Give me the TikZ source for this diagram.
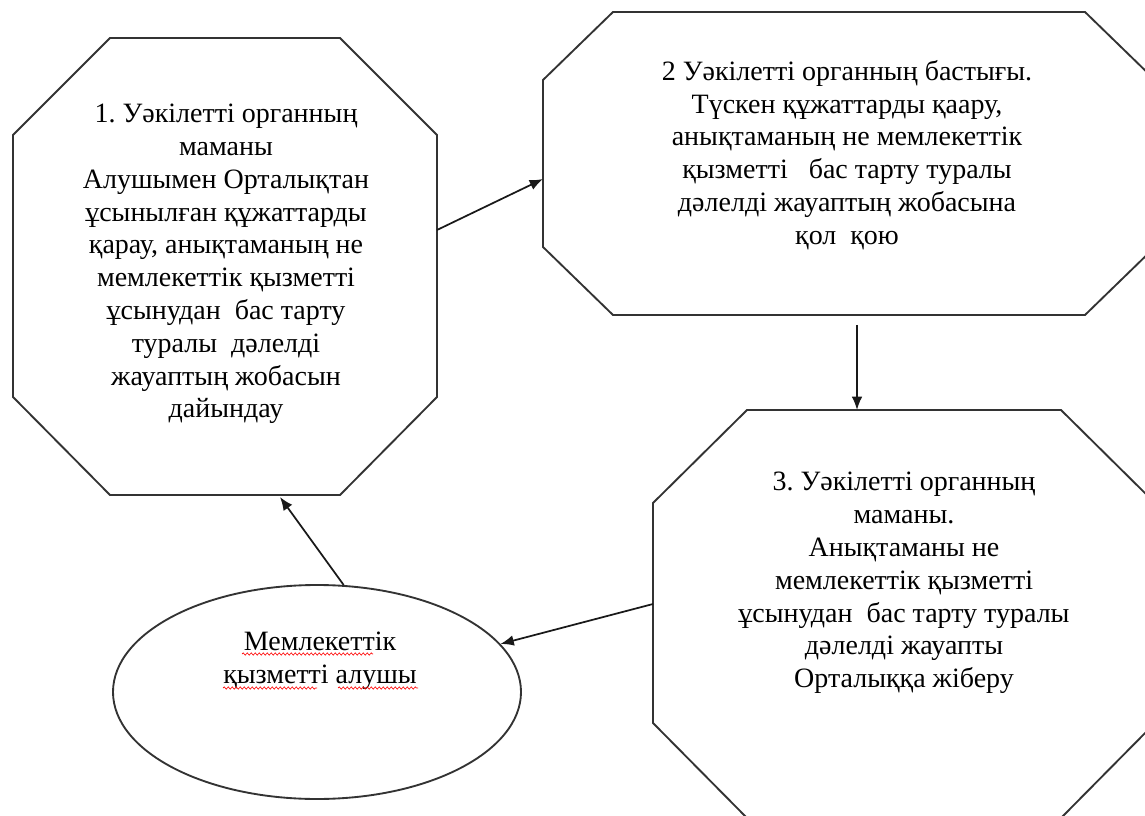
\documentclass[tikz,border=0pt]{standalone}
\usepackage{fontspec}
\setmainfont{Liberation Serif}
\usetikzlibrary{calc,arrows.meta,shapes.geometric,decorations.pathmorphing}
\frenchspacing

\begin{document}
\begin{tikzpicture}[x=0.75pt,y=-0.75pt,
	octa/.style={draw=black!80, line width=1.4pt, fill=white},
	txt/.style={align=center, inner sep=0pt, font=\fontsize{21}{24.6}\selectfont},
	arr/.style={draw=black!90, line width=1.3pt, -{Latex[length=10pt,width=8pt]}},
	wavy/.style={draw=red, line width=0.5pt, decorate, decoration={snake, segment length=3pt, amplitude=0.8pt}}]
	\useasboundingbox (0,0) rectangle (1145,816);
	\clip (0,0) rectangle (1145,816);

	% Octagon 1 (specialist)
	\draw[octa] (110,38) -- (340,38) -- (437,135) -- (437,397) -- (340,495) -- (110,495) -- (13,397) -- (13,135) -- cycle;
	\node[txt] (spec1) at (226,264) {1. Уәкілетті органның\\ маманы\\ Алушымен Орталықтан\\ ұсынылған құжаттарды\\ қарау, анықтаманың не\\ мемлекеттік қызметті\\ ұсынудан\ \ бас тарту\\ туралы\ \ дәлелді\\ жауаптың жобасын\\ дайындау};
	\coordinate (o1e) at (437,230);
	\coordinate (o1s) at (280,497);

	% Octagon 2 (head)
	\draw[octa] (613,12) -- (1085,12) -- (1155,80) -- (1155,247) -- (1085,315) -- (613,315) -- (543,247) -- (543,80) -- cycle;
	\node[txt] (head2) at (847,155) {2 Уәкілетті органның бастығы.\\ Түскен құжаттарды қаару,\\ анықтаманың не мемлекеттік\\ қызметті\ \ \ бас тарту туралы\\ дәлелді жауаптың жобасына\\ қол\ \ қою};
	\coordinate (o2w) at (543,179);
	\coordinate (o2s) at (857,325);

	% Octagon 3 (specialist, sending)
	\draw[octa] (747,410) -- (1061,410) -- (1155,503) -- (1155,723) -- (1061,818) -- (747,818) -- (653,723) -- (653,503) -- cycle;
	\node[txt] (spec3) at (904,583) {3. Уәкілетті органның\\ маманы.\\ Анықтаманы не\\ мемлекеттік қызметті\\ ұсынудан\ \ бас тарту туралы\\ дәлелді жауапты\\ Орталыққа жіберу};
	\coordinate (o3n) at (857,410);
	\coordinate (o3w) at (653,604);

	% Receiver
	\node[ellipse, draw=black!80, line width=1.4pt, fill=white, minimum width=306pt, minimum height=160.5pt, inner sep=0pt] (recv) at (317,692) {};
	\node[txt] (recvtext) at (320,661) {Мемлекеттік\\ қызметті алушы};
	% spelling marks
	\draw[wavy] (242,654) -- (373,654);
	\draw[wavy] (223,688) -- (317,688);
	\draw[wavy] (338,688) -- (418,688);

	% Arrows
	\draw[arr] (o1e) -- (o2w);
	\draw[arr] (o2s) -- (o3n);
	\draw[arr] (o3w) -- (recv);
	\draw[arr] (recv.76) -- (o1s);
\end{tikzpicture}
\end{document}
